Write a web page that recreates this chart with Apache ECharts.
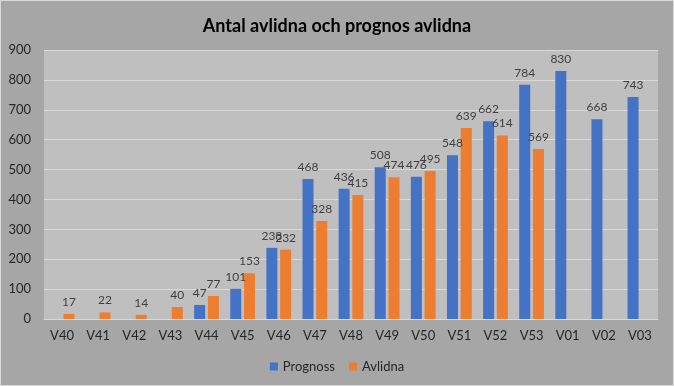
<!DOCTYPE html>
<html><head><meta charset="utf-8">
<script src="https://cdn.jsdelivr.net/npm/echarts@6/dist/echarts.min.js"></script>
<style>
html,body{margin:0;padding:0;background:#a6a6a6;}
#c{width:672px;height:384px;border:1px solid #d9d9d9;}
</style></head>
<body><div id="c"></div>
<script>
const categories = ['V40','V41','V42','V43','V44','V45','V46','V47','V48','V49','V50','V51','V52','V53','V01','V02','V03'];
const prognoss = [null,null,null,null,47,101,238,468,436,508,476,548,662,784,830,668,743];
const avlidna = [17,22,14,40,77,153,232,328,415,474,495,639,614,569,null,null,null];
const yTicks = [0,100,200,300,400,500,600,700,800,900];

const chart = echarts.init(document.getElementById('c'));
const font = 'Lato, "Open Sans", sans-serif';
chart.setOption({
  backgroundColor: '#a6a6a6',
  animation: false,
  title: {
    text: 'Antal avlidna och prognos avlidna',
    left: 'center', top: 11,
    textStyle: {fontFamily: font, fontWeight: 'bold', fontSize: 18, color: '#000'}
  },
  legend: {
    bottom: 7, left: 'center',
    itemWidth: 8, itemHeight: 8, itemGap: 14, icon: 'rect',
    textStyle: {fontFamily: font, fontSize: 13, color: '#262626'},
    data: ['Prognoss','Avlidna']
  },
  grid: {left: 43, right: 15, top: 49, bottom: 66, backgroundColor: '#bfbfbf', show: true, borderWidth: 0},
  xAxis: {
    type: 'category', data: categories,
    axisLine: {lineStyle: {color: '#d9d9d9', width: 1}},
    axisTick: {show: false},
    axisLabel: {fontFamily: font, fontSize: 13, color: '#262626', margin: 10}
  },
  yAxis: {
    type: 'value', min: 0, max: 900, interval: 100,
    axisLine: {show: false}, axisTick: {show: false},
    splitLine: {lineStyle: {color: '#d9d9d9', width: 1}},
    axisLabel: {fontFamily: font, fontSize: 13, color: '#262626', margin: 13,
      formatter: v => yTicks.includes(v) ? String(v) : ''}
  },
  series: [
    {name: 'Prognoss', type: 'bar', data: prognoss, barWidth: 11, barGap: '25%',
     itemStyle: {color: '#4472c4'},
     label: {show: true, position: 'top', distance: 6, fontFamily: font, fontSize: 12, color: '#404040'}},
    {name: 'Avlidna', type: 'bar', data: avlidna, barWidth: 11, barGap: '25%',
     itemStyle: {color: '#ed7d31'},
     label: {show: true, position: 'top', distance: 6, fontFamily: font, fontSize: 12, color: '#404040'}}
  ]
});
</script></body></html>
